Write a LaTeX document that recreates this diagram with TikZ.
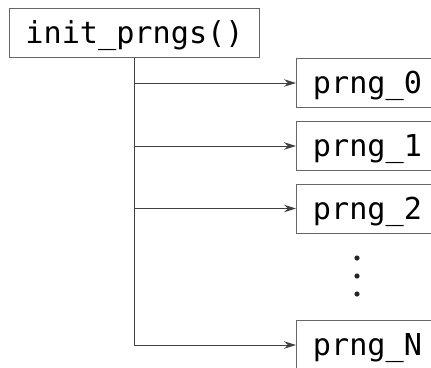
\documentclass[tikz,border=0pt]{standalone}
\usepackage{fontspec}
\setmonofont{DejaVu Sans Mono}
\usetikzlibrary{arrows.meta}
\begin{document}
\begin{tikzpicture}[x=1pt,y=-1pt,
  box/.style={draw=black!60,line width=1pt,fill=white,inner sep=0pt,
    minimum height=49pt,text height=25.5pt,text depth=4.5pt,
    font=\fontsize{30.2}{31}\selectfont\ttfamily,anchor=north west},
  conn/.style={draw=black!75,line width=1pt},
  arr/.style={conn,-{Stealth[length=12pt,width=7.5pt,inset=4pt]}}]
\useasboundingbox (0,0) rectangle (431,367);
\clip (0,0) rectangle (431,367);
\node[box,minimum width=250pt] (top) at (9,8) {init\_prngs()};
\node[box,minimum width=142pt] (p0) at (296,58) {prng\_0};
\node[box,minimum width=142pt] (p1) at (296,121) {prng\_1};
\node[box,minimum width=142pt] (p2) at (296,183.5) {prng\_2};
\node[box,minimum width=142pt] (pN) at (296,320) {prng\_N};
\coordinate (d) at (357,258);
\fill[black!85] (d) circle (2.6pt) ++(0,18) circle (2.6pt) ++(0,18) circle (2.6pt);
\draw[conn] (top.south -| 134,0) -- (134,345);
\draw[arr] (134,345) -- (pN.west |- 0,345);
\draw[arr] (p0.west -| 134,0) -- (p0.west);
\draw[arr] (p1.west -| 134,0) -- (p1.west);
\draw[arr] (p2.west -| 134,0) -- (p2.west);
\end{tikzpicture}
\end{document}
